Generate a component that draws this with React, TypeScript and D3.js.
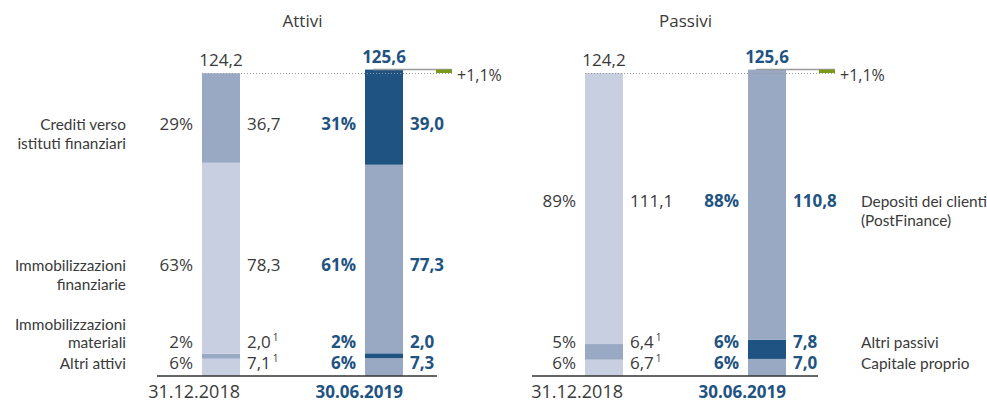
import React, { useEffect, useRef } from 'react';
import * as d3 from 'd3';

// Periodi
const PERIODS = ['31.12.2018', '30.06.2019'];

// Attivi (dal basso verso l'alto)
const ASSET_CATEGORIES = [
  ['Altri attivi'],
  ['Immobilizzazioni', 'materiali'],
  ['Immobilizzazioni', 'finanziarie'],
  ['Crediti verso', 'istituti finanziari']
];
const ASSETS_2018 = [7.1, 2.0, 78.3, 36.7];
const ASSETS_2019 = [7.3, 2.0, 77.3, 39.0];
const ASSETS_PCT_2018 = [6, 2, 63, 29];
const ASSETS_PCT_2019 = [6, 2, 61, 31];
const ASSETS_NOTE_2018 = [true, true, false, false];

// Passivi (dal basso verso l'alto)
const LIAB_CATEGORIES = [
  ['Capitale proprio'],
  ['Altri passivi'],
  ['Depositi dei clienti', '(PostFinance)']
];
const LIAB_2018 = [6.7, 6.4, 111.1];
const LIAB_2019 = [7.0, 7.8, 110.8];
const LIAB_PCT_2018 = [6, 5, 89];
const LIAB_PCT_2019 = [6, 6, 88];
const LIAB_NOTE_2018 = [true, true, false];

const TOTALS = [124.2, 125.6];
const CHANGE_LABEL = '+1,1%';

const COLORS = {
  light: '#c8cfe0',
  mid: '#99a9c4',
  dark: '#1f5381',
  text: '#3a3a3a',
  blue: '#1f5381',
  green: '#7b9a1c',
  grey: '#9a9a9a'
};

const W = 987;
const H = 403;
const FONT = '"Open Sans", sans-serif';
const LABEL_FONT = 'Lato, "Open Sans", sans-serif';
const LINE_H = 18.5;

const fmt = (v: number) => d3.format('.1f')(v).replace('.', ',');

const App = () => {
  const svgRef = useRef<SVGSVGElement>(null);

  useEffect(() => {
    const svg = d3.select(svgRef.current);
    svg.selectAll('*').remove();
    svg.attr('width', W).attr('height', H).style('font-family', FONT);

    const y = d3.scaleLinear().domain([0, TOTALS[0]]).range([376, 73]);

    const panels = [
      {
        title: 'Attivi',
        range: [202, 403],
        cats: ASSET_CATEGORIES,
        values: [ASSETS_2018, ASSETS_2019],
        pcts: [ASSETS_PCT_2018, ASSETS_PCT_2019],
        notes: ASSETS_NOTE_2018,
        labelY: [369, 348, 271, 130],
        catSide: 'left',
        axis: [157, 437]
      },
      {
        title: 'Passivi',
        range: [585, 786],
        cats: LIAB_CATEGORIES,
        values: [LIAB_2018, LIAB_2019],
        pcts: [LIAB_PCT_2018, LIAB_PCT_2019],
        notes: LIAB_NOTE_2018,
        labelY: [369, 348, 207],
        catSide: 'right',
        axis: [532, 818]
      }
    ];

    panels.forEach(p => {
      const g = svg.append('g');
      const x = d3.scaleBand().domain(PERIODS).range(p.range as [number, number]).paddingInner(125 / 163);
      const bw = x.bandwidth();

      // Titolo
      g.append('text')
        .attr('x', (p.range[0] + p.range[1]) / 2)
        .attr('y', 27)
        .attr('text-anchor', 'middle')
        .attr('font-size', 17)
        .attr('fill', COLORS.text)
        .text(p.title);

      // Barre impilate
      PERIODS.forEach((period, pi) => {
        const vals = p.values[pi];
        const stacked = d3.cumsum(vals);
        const palette = pi === 0 ? [COLORS.light, COLORS.mid] : [COLORS.mid, COLORS.dark];
        vals.forEach((v, i) => {
          const top = stacked[i];
          const bottom = top - v;
          g.append('rect')
            .attr('x', x(period)!)
            .attr('y', y(top))
            .attr('width', bw)
            .attr('height', y(bottom) - y(top))
            .attr('fill', palette[i % 2]);
        });
      });

      const x18 = x(PERIODS[0])!;
      const x19 = x(PERIODS[1])!;

      // Linea tratteggiata + variazione
      g.append('line')
        .attr('x1', x18).attr('x2', x19 + bw + 49)
        .attr('y1', y(TOTALS[0]) + 0.5).attr('y2', y(TOTALS[0]) + 0.5)
        .attr('stroke', COLORS.grey)
        .attr('stroke-width', 1)
        .attr('stroke-dasharray', '1,2');
      g.append('line')
        .attr('x1', x19 + 8).attr('x2', x19 + bw + 49)
        .attr('y1', y(TOTALS[1])).attr('y2', y(TOTALS[1]))
        .attr('stroke', COLORS.grey)
        .attr('stroke-width', 1.5);
      g.append('rect')
        .attr('x', x19 + bw + 33)
        .attr('y', y(TOTALS[1]))
        .attr('width', 16)
        .attr('height', y(TOTALS[0]) - y(TOTALS[1]))
        .attr('fill', COLORS.green);
      g.append('text')
        .attr('x', x19 + bw + 54)
        .attr('y', 81)
        .attr('font-size', 16)
        .attr('fill', COLORS.text)
        .text(CHANGE_LABEL);

      // Totali
      TOTALS.forEach((t, ti) => {
        g.append('text')
          .attr('x', x(PERIODS[ti])! + bw / 2)
          .attr('y', y(t) - 7)
          .attr('text-anchor', 'middle')
          .attr('font-size', 17)
          .attr('font-weight', ti === 1 ? 700 : 400)
          .attr('fill', ti === 1 ? COLORS.blue : COLORS.text)
          .text(fmt(t));
      });

      // Etichette di riga
      p.cats.forEach((lines, i) => {
        const ly = p.labelY[i];
        // categoria (più righe in un solo testo)
        const nLines = lines.length;
        const catX = p.catSide === 'left' ? x18 - 76 : x19 + bw + 75;
        const catY = p.catSide === 'left' && i < 2 ? ly - (nLines - 1) * LINE_H : ly;
        const ct = g.append('text')
          .attr('y', catY)
          .attr('text-anchor', p.catSide === 'left' ? 'end' : 'start')
          .attr('font-family', LABEL_FONT)
          .attr('font-size', 15.4)
          .attr('fill', COLORS.text);
        lines.forEach((line, li) => {
          ct.append('tspan')
            .attr('x', catX)
            .attr('dy', li === 0 ? 0 : LINE_H)
            .text(line);
        });

        // percentuali e valori
        [0, 1].forEach(pi => {
          const bx = pi === 0 ? x18 : x19;
          const bold = pi === 1;
          const color = bold ? COLORS.blue : COLORS.text;
          g.append('text')
            .attr('x', bx - 9)
            .attr('y', ly)
            .attr('text-anchor', 'end')
            .attr('font-size', 17)
            .attr('font-weight', bold ? 700 : 400)
            .attr('fill', color)
            .text(`${p.pcts[pi][i]}%`);
          const vt = g.append('text')
            .attr('x', bx + bw + 7)
            .attr('y', ly)
            .attr('font-size', 17)
            .attr('font-weight', bold ? 700 : 400)
            .attr('fill', color)
            .text(fmt(p.values[pi][i]));
          if (pi === 0 && p.notes[i]) {
            vt.append('tspan')
              .attr('dx', 2)
              .attr('dy', -7)
              .attr('font-size', 10)
              .text('1');
          }
        });
      });

      // Asse
      g.append('line')
        .attr('x1', p.axis[0]).attr('x2', p.axis[1])
        .attr('y1', 376).attr('y2', 376)
        .attr('stroke', '#333')
        .attr('stroke-width', 1.5);

      // Date
      PERIODS.forEach((period, pi) => {
        g.append('text')
          .attr('x', x(period)! + bw)
          .attr('y', 398)
          .attr('text-anchor', 'end')
          .attr('font-size', pi === 1 ? 17 : 18)
          .attr('font-weight', pi === 1 ? 700 : 400)
          .attr('fill', pi === 1 ? COLORS.blue : COLORS.text)
          .text(period);
      });
    });
  }, []);

  return (
    <div style={{ width: W, height: H, overflow: 'hidden', position: 'absolute', left: 0, top: 0 }}>
      <svg ref={svgRef} style={{ display: 'block' }} />
    </div>
  );
};

export default App;
